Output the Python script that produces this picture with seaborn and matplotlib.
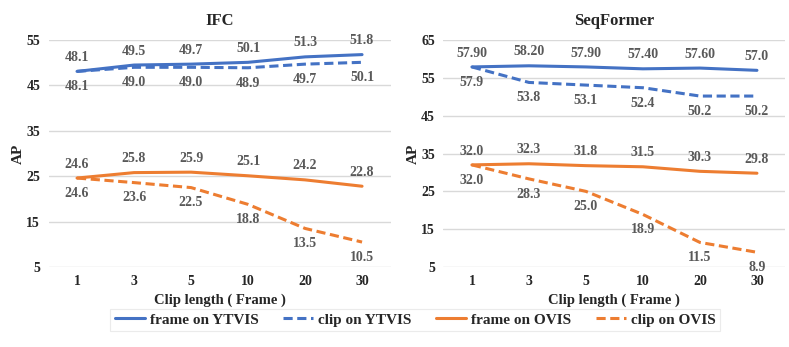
import matplotlib
matplotlib.use("Agg")
import matplotlib.pyplot as plt
import seaborn as sns
import pandas as pd

clip_lengths = ["1", "3", "5", "10", "20", "30"]

ifc_frame_ytvis = [48.1, 49.5, 49.7, 50.1, 51.3, 51.8]
ifc_clip_ytvis = [48.1, 49.0, 49.0, 48.9, 49.7, 50.1]
ifc_frame_ovis = [24.6, 25.8, 25.9, 25.1, 24.2, 22.8]
ifc_clip_ovis = [24.6, 23.6, 22.5, 18.8, 13.5, 10.5]

seq_frame_ytvis = [57.90, 58.20, 57.90, 57.40, 57.60, 57.0]
seq_frame_ytvis_labels = ["57.90", "58.20", "57.90", "57.40", "57.60", "57.0"]
seq_clip_ytvis = [57.9, 53.8, 53.1, 52.4, 50.2, 50.2]
seq_frame_ovis = [32.0, 32.3, 31.8, 31.5, 30.3, 29.8]
seq_clip_ovis = [32.0, 28.3, 25.0, 18.9, 11.5, 8.9]

series_names = ["frame on YTVIS", "clip on YTVIS", "frame on OVIS", "clip on OVIS"]

sns.set_theme(style="white")
plt.rcParams["font.family"] = ["Liberation Serif", "DejaVu Serif"]

BLUE = "#4472C4"
ORANGE = "#ED7D31"
colors = [BLUE, BLUE, ORANGE, ORANGE]
dashes = [False, True, False, True]
offsets = [10, -11, 10, -11]

fig = plt.figure(figsize=(7.89, 3.47), dpi=100)
ax1 = fig.add_axes([0.0615, 0.2305, 0.4335, 0.654])
ax2 = fig.add_axes([0.562, 0.2305, 0.4335, 0.654])

panels = [
    (ax1, "IFC", [ifc_frame_ytvis, ifc_clip_ytvis, ifc_frame_ovis, ifc_clip_ovis],
     [None, None, None, None], (5, 55), [5, 15, 25, 35, 45, 55]),
    (ax2, "SeqFormer", [seq_frame_ytvis, seq_clip_ytvis, seq_frame_ovis, seq_clip_ovis],
     [seq_frame_ytvis_labels, None, None, None], (5, 65), [5, 15, 25, 35, 45, 55, 65]),
]

handles = []
for ax, title, data, labels, ylim, yticks in panels:
    for i, (name, vals) in enumerate(zip(series_names, data)):
        df = pd.DataFrame({"x": clip_lengths, "y": vals})
        sns.lineplot(data=df, x="x", y="y", ax=ax, color=colors[i], lw=2.2,
                     sort=False, linestyle=(0, (3, 1.5)) if dashes[i] else "-",
                     label=name)
        labs = labels[i] if labels[i] is not None else [f"{v:.1f}" for v in vals]
        for xc, v, t in zip(clip_lengths, vals, labs):
            ax.annotate(t, xy=(xc, v), xytext=(0, offsets[i]), textcoords="offset points",
                        ha="center", va="center", fontsize=10, fontweight="bold",
                        color="#595959")
    ax.set_ylim(*ylim)
    ax.set_yticks(yticks)
    ax.set_xlim(-0.5, 5.5)
    ax.grid(axis="y", color="#d9d9d9", lw=1)
    ax.grid(axis="x", visible=False)
    for s in ax.spines.values():
        s.set_visible(False)
    ax.tick_params(axis="both", length=0, labelsize=10, pad=6)
    for lab in ax.get_xticklabels() + ax.get_yticklabels():
        lab.set_fontweight("bold")
    ax.set_xlabel("Clip length ( Frame )", fontsize=10.5, fontweight="bold", labelpad=4)
    ax.set_ylabel("AP", fontsize=11, fontweight="bold", labelpad=1)
    ax.set_title(title, fontsize=12, fontweight="bold", pad=11)
    h, l = ax.get_legend_handles_labels()
    handles = (h, l)
    ax.get_legend().remove()

leg = fig.legend(handles[0], handles[1], loc="center", bbox_to_anchor=(0.526, 0.078),
                 ncol=4, frameon=True, fontsize=11, handlelength=2.0, columnspacing=1.6,
                 handletextpad=0.3, borderpad=0.3, fancybox=False, borderaxespad=0)
leg.get_frame().set_edgecolor("#e6e6e6")
leg.get_frame().set_linewidth(0.8)
for t in leg.get_texts():
    t.set_fontweight("bold")

fig.savefig("out.png", dpi=100)
